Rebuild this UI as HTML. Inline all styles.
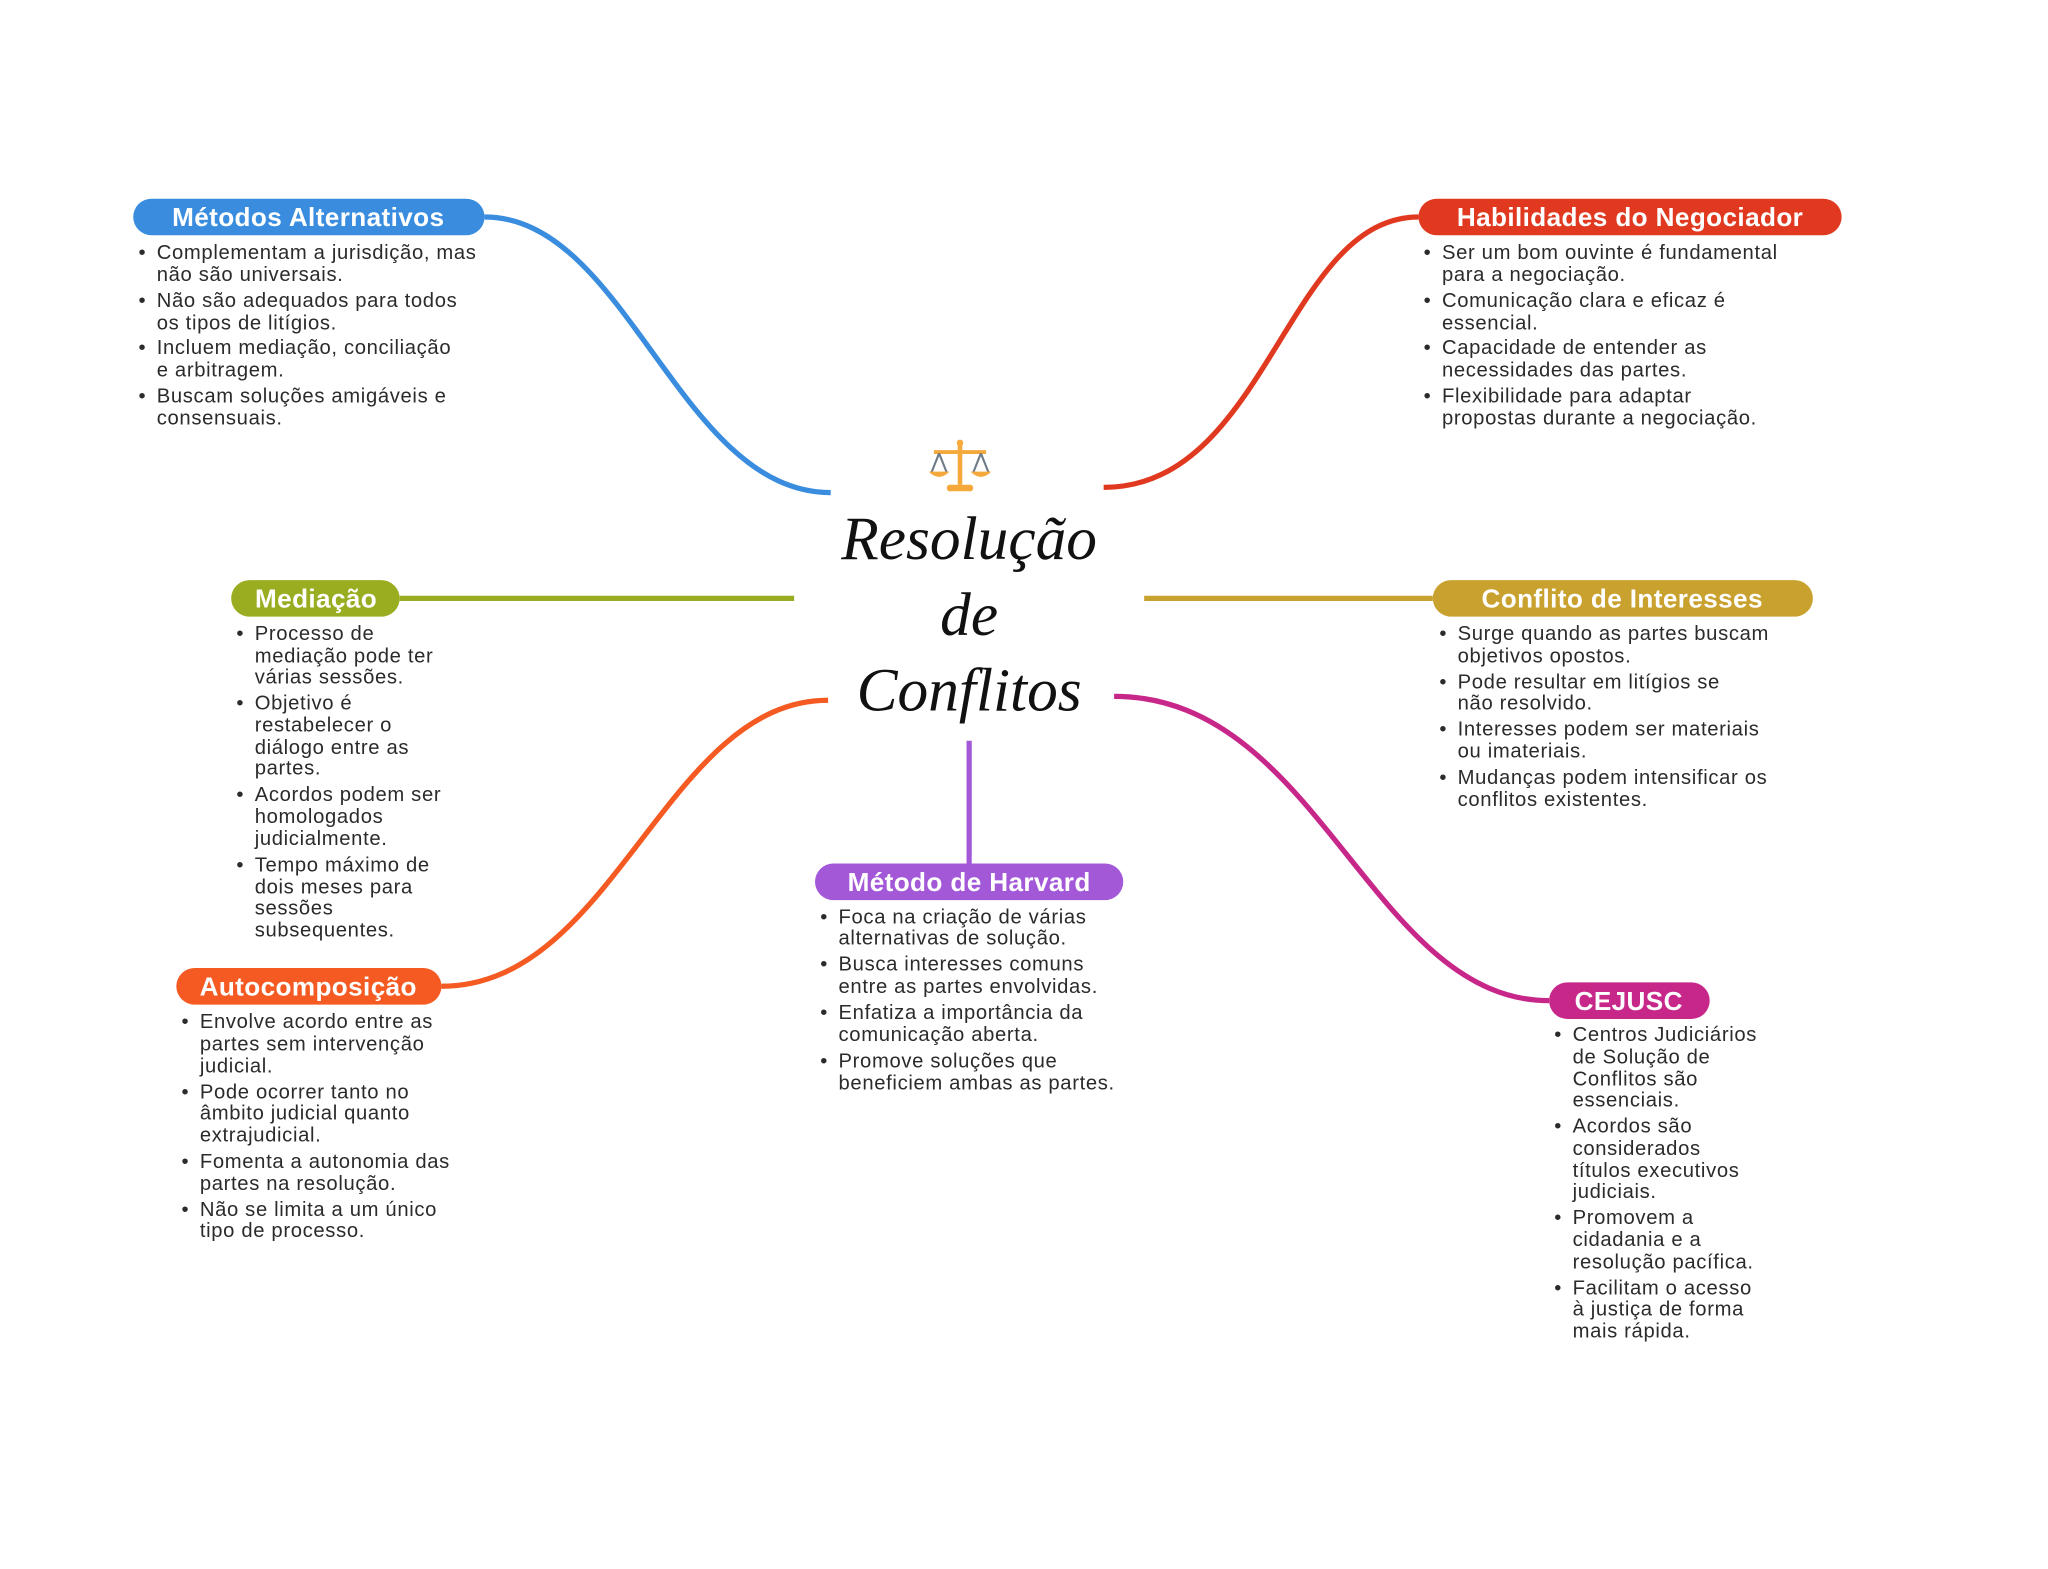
<!DOCTYPE html>
<html><head><meta charset="utf-8"><style>
html,body{margin:0;padding:0;background:#fff}
svg{display:block}
.t{font-family:"Liberation Sans",sans-serif;font-size:15.5px;fill:#2b2b2b;letter-spacing:0.5px}
.h{font-family:"Liberation Sans",sans-serif;font-size:20px;font-weight:bold;fill:#fff;text-anchor:middle;letter-spacing:0.3px}
.ti{font-family:"Liberation Serif",serif;font-style:italic;font-size:47px;fill:#111;text-anchor:middle}
</style></head><body>
<svg width="2048" height="1569" viewBox="0 0 1568 1201" xmlns="http://www.w3.org/2000/svg">
<rect width="1568" height="1201" fill="#fff"/>
<g fill="none" stroke-width="4">
<path d="M371,166 C480,166 520,377 636,377" stroke="#3a8dde"/>
<path d="M845,373 C970,373 985,166 1086,166" stroke="#e0391f"/>
<path d="M306,458 L608,458" stroke="#9aac1f"/>
<path d="M876,458 L1097,458" stroke="#c9a12e"/>
<path d="M634,536 C510,536 470,755 338,755" stroke="#f45a22"/>
<path d="M742,567 L742,661" stroke="#a358d8"/>
<path d="M853,533 C1010,533 1050,766 1186,766" stroke="#c8278a"/>
</g>
<rect x="102" y="152" width="269" height="28" rx="14" fill="#3a8dde"/><text class="h" x="236" y="173">Métodos Alternativos</text>
<rect x="1086" y="152" width="324" height="28" rx="14" fill="#e0391f"/><text class="h" x="1248" y="173">Habilidades do Negociador</text>
<rect x="177" y="444" width="129" height="28" rx="14" fill="#9aac1f"/><text class="h" x="242" y="465">Mediação</text>
<rect x="1097" y="444" width="291" height="28" rx="14" fill="#c9a12e"/><text class="h" x="1242" y="465">Conflito de Interesses</text>
<rect x="135" y="741" width="203" height="28" rx="14" fill="#f45a22"/><text class="h" x="236" y="762">Autocomposição</text>
<rect x="624" y="661" width="236" height="28" rx="14" fill="#a358d8"/><text class="h" x="742" y="682">Método de Harvard</text>
<rect x="1186" y="752" width="123" height="28" rx="14" fill="#c8278a"/><text class="h" x="1247" y="773">CEJUSC</text>
<g transform="translate(735,357)">
<line x1="0" y1="-18" x2="0" y2="14" stroke="#f6a93b" stroke-width="3.5"/>
<line x1="-20" y1="-11" x2="20" y2="-11" stroke="#f6a93b" stroke-width="3"/>
<circle cx="0" cy="-18" r="2.5" fill="#f6a93b"/>
<path d="M-16,-10 L-22,5 M-16,-10 L-10,5 M16,-10 L10,5 M16,-10 L22,5" stroke="#6d7a86" stroke-width="1.6" fill="none"/>
<path d="M-24,4 L-8,4 Q-16,12 -24,4Z M8,4 L24,4 Q16,12 8,4Z" fill="#f6a93b"/>
<rect x="-10" y="14" width="20" height="5" rx="2" fill="#f6a93b"/>
</g>
<text class="ti" x="742" y="428">Resolução</text>
<text class="ti" x="742" y="486">de</text>
<text class="ti" x="742" y="544">Conflitos</text>
<g class="t">
<text x="106" y="198">•</text><text x="120" y="198">Complementam a jurisdição, mas</text><text x="120" y="215">não são universais.</text>
<text x="106" y="235">•</text><text x="120" y="235">Não são adequados para todos</text><text x="120" y="252">os tipos de litígios.</text>
<text x="106" y="271">•</text><text x="120" y="271">Incluem mediação, conciliação</text><text x="120" y="288">e arbitragem.</text>
<text x="106" y="308">•</text><text x="120" y="308">Buscam soluções amigáveis e</text><text x="120" y="325">consensuais.</text>

<text x="1090" y="198">•</text><text x="1104" y="198">Ser um bom ouvinte é fundamental</text><text x="1104" y="215">para a negociação.</text>
<text x="1090" y="235">•</text><text x="1104" y="235">Comunicação clara e eficaz é</text><text x="1104" y="252">essencial.</text>
<text x="1090" y="271">•</text><text x="1104" y="271">Capacidade de entender as</text><text x="1104" y="288">necessidades das partes.</text>
<text x="1090" y="308">•</text><text x="1104" y="308">Flexibilidade para adaptar</text><text x="1104" y="325">propostas durante a negociação.</text>

<text x="181" y="490">•</text><text x="195" y="490">Processo de</text><text x="195" y="507">mediação pode ter</text><text x="195" y="523">várias sessões.</text>
<text x="181" y="543">•</text><text x="195" y="543">Objetivo é</text><text x="195" y="560">restabelecer o</text><text x="195" y="577">diálogo entre as</text><text x="195" y="593">partes.</text>
<text x="181" y="613">•</text><text x="195" y="613">Acordos podem ser</text><text x="195" y="630">homologados</text><text x="195" y="647">judicialmente.</text>
<text x="181" y="667">•</text><text x="195" y="667">Tempo máximo de</text><text x="195" y="684">dois meses para</text><text x="195" y="700">sessões</text><text x="195" y="717">subsequentes.</text>

<text x="1102" y="490">•</text><text x="1116" y="490">Surge quando as partes buscam</text><text x="1116" y="507">objetivos opostos.</text>
<text x="1102" y="527">•</text><text x="1116" y="527">Pode resultar em litígios se</text><text x="1116" y="543">não resolvido.</text>
<text x="1102" y="563">•</text><text x="1116" y="563">Interesses podem ser materiais</text><text x="1116" y="580">ou imateriais.</text>
<text x="1102" y="600">•</text><text x="1116" y="600">Mudanças podem intensificar os</text><text x="1116" y="617">conflitos existentes.</text>

<text x="139" y="787">•</text><text x="153" y="787">Envolve acordo entre as</text><text x="153" y="804">partes sem intervenção</text><text x="153" y="821">judicial.</text>
<text x="139" y="841">•</text><text x="153" y="841">Pode ocorrer tanto no</text><text x="153" y="857">âmbito judicial quanto</text><text x="153" y="874">extrajudicial.</text>
<text x="139" y="894">•</text><text x="153" y="894">Fomenta a autonomia das</text><text x="153" y="911">partes na resolução.</text>
<text x="139" y="931">•</text><text x="153" y="931">Não se limita a um único</text><text x="153" y="947">tipo de processo.</text>

<text x="628" y="707">•</text><text x="642" y="707">Foca na criação de várias</text><text x="642" y="723">alternativas de solução.</text>
<text x="628" y="743">•</text><text x="642" y="743">Busca interesses comuns</text><text x="642" y="760">entre as partes envolvidas.</text>
<text x="628" y="780">•</text><text x="642" y="780">Enfatiza a importância da</text><text x="642" y="797">comunicação aberta.</text>
<text x="628" y="817">•</text><text x="642" y="817">Promove soluções que</text><text x="642" y="834">beneficiem ambas as partes.</text>

<text x="1190" y="797">•</text><text x="1204" y="797">Centros Judiciários</text><text x="1204" y="814">de Solução de</text><text x="1204" y="831">Conflitos são</text><text x="1204" y="847">essenciais.</text>
<text x="1190" y="867">•</text><text x="1204" y="867">Acordos são</text><text x="1204" y="884">considerados</text><text x="1204" y="901">títulos executivos</text><text x="1204" y="917">judiciais.</text>
<text x="1190" y="937">•</text><text x="1204" y="937">Promovem a</text><text x="1204" y="954">cidadania e a</text><text x="1204" y="971">resolução pacífica.</text>
<text x="1190" y="991">•</text><text x="1204" y="991">Facilitam o acesso</text><text x="1204" y="1007">à justiça de forma</text><text x="1204" y="1024">mais rápida.</text>
</g>
</svg>
</body></html>
